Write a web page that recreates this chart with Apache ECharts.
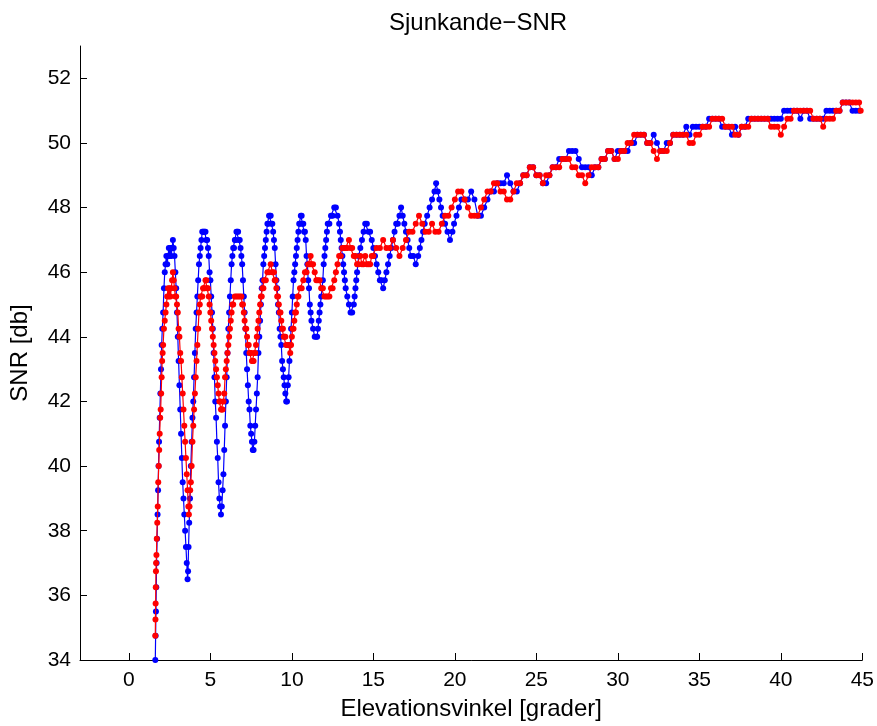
<!DOCTYPE html>
<html>
<head>
<meta charset="utf-8">
<script src="https://cdn.jsdelivr.net/npm/echarts@6/dist/echarts.min.js"></script>
<style>html,body{margin:0;padding:0;background:#fff}#c{width:877px;height:726px}</style>
</head>
<body>
<div id="c"></div>
<script>
const titleText = 'Sjunkande\u2212SNR';
const xAxisName = 'Elevationsvinkel [grader]';
const yAxisName = 'SNR [db]';
const xTicks = [0, 5, 10, 15, 20, 25, 30, 35, 40, 45];
const yTicks = [34, 36, 38, 40, 42, 44, 46, 48, 50, 52];

// blue series: [elevation, SNR]
const bluePoints = [
[1.62,34.0],[1.64,34.75],[1.66,35.5],[1.68,36.25],[1.70,37.0],[1.73,37.75],[1.76,38.5],[1.79,39.25],[1.82,40.0],[1.85,40.75],
[1.89,41.5],[1.93,42.25],[1.97,43.0],[2.01,43.75],[2.05,44.25],[2.10,44.75],[2.15,45.5],[2.20,46.0],[2.25,46.25],[2.30,46.5],
[2.35,46.25],[2.40,46.5],[2.45,46.75],[2.50,46.5],[2.55,46.75],[2.60,46.5],[2.65,46.75],[2.70,47.0],[2.75,46.75],[2.80,46.5],
[2.85,46.0],[2.90,45.5],[2.95,44.75],[3.00,44.0],[3.05,43.25],[3.10,42.5],[3.15,41.75],[3.20,41.0],[3.25,40.25],[3.30,39.5],
[3.35,39.0],[3.40,38.5],[3.45,38.0],[3.50,37.5],[3.55,37.0],[3.60,36.5],[3.63,36.75],[3.66,37.5],[3.70,38.25],[3.75,39.0],
[3.80,40.0],[3.85,40.75],[3.90,41.5],[3.95,42.0],[4.00,42.75],[4.05,43.5],[4.10,44.25],[4.15,44.75],[4.20,45.25],[4.25,45.75],
[4.30,46.25],[4.35,46.5],[4.40,46.75],[4.45,47.0],[4.50,47.25],[4.55,47.25],[4.60,47.25],[4.65,47.25],[4.70,47.25],[4.75,47.0],
[4.80,47.0],[4.85,46.75],[4.90,46.5],[4.95,46.0],[5.00,45.75],[5.05,45.25],[5.10,44.75],[5.15,44.25],[5.20,43.5],[5.25,42.75],
[5.30,42.0],[5.35,41.5],[5.40,40.75],[5.45,40.25],[5.50,39.5],[5.55,39.0],[5.60,38.75],[5.65,38.5],[5.70,38.75],[5.75,39.25],
[5.80,39.75],[5.85,40.5],[5.90,41.25],[5.95,42.0],[6.00,42.75],[6.05,43.5],[6.10,44.25],[6.15,44.75],[6.20,45.25],[6.25,45.75],
[6.30,46.25],[6.35,46.5],[6.40,46.75],[6.45,46.75],[6.50,47.0],[6.55,47.0],[6.60,47.25],[6.65,47.25],[6.70,47.25],[6.75,47.0],
[6.80,47.0],[6.85,46.75],[6.90,46.5],[6.95,46.25],[7.00,45.75],[7.05,45.25],[7.10,44.75],[7.15,44.25],[7.20,43.5],[7.25,43.0],
[7.30,42.5],[7.35,42.0],[7.40,41.75],[7.45,41.25],[7.50,41.0],[7.55,40.75],[7.60,40.5],[7.65,40.5],[7.70,40.75],[7.75,41.25],
[7.80,41.75],[7.85,42.25],[7.90,42.75],[7.95,43.5],[8.00,44.0],[8.05,44.5],[8.10,45.0],[8.15,45.5],[8.20,45.75],[8.25,46.25],
[8.30,46.5],[8.35,46.75],[8.40,47.0],[8.45,47.25],[8.50,47.5],[8.55,47.5],[8.60,47.75],[8.65,47.75],[8.70,47.75],[8.75,47.5],
[8.80,47.5],[8.85,47.25],[8.90,47.0],[8.95,46.75],[9.00,46.25],[9.05,45.75],[9.10,45.5],[9.15,45.0],[9.20,44.75],[9.25,44.25],
[9.30,44.0],[9.35,43.75],[9.40,43.25],[9.45,43.0],[9.50,42.75],[9.55,42.5],[9.60,42.25],[9.65,42.0],[9.70,42.0],[9.75,42.5],
[9.80,42.75],[9.85,43.25],[9.90,43.75],[9.95,44.25],[10.00,44.75],[10.05,45.25],[10.10,45.75],[10.15,46.0],[10.20,46.25],[10.25,46.5],
[10.30,46.75],[10.35,47.0],[10.40,47.25],[10.45,47.5],[10.50,47.5],[10.55,47.75],[10.60,47.75],[10.65,47.5],[10.70,47.5],[10.75,47.25],
[10.80,47.25],[10.85,47.0],[10.90,46.5],[10.95,46.25],[11.00,45.75],[11.05,45.5],[11.10,45.0],[11.15,44.75],[11.20,44.5],[11.30,44.25],
[11.40,44.0],[11.50,44.0],[11.55,44.0],[11.60,44.25],[11.65,44.5],[11.70,44.75],[11.75,45.0],[11.80,45.25],[11.85,45.5],[11.90,45.75],
[11.95,46.25],[12.00,46.5],[12.05,46.75],[12.10,47.0],[12.15,47.25],[12.20,47.5],[12.30,47.5],[12.40,47.75],[12.50,47.75],[12.60,48.0],
[12.70,48.0],[12.80,47.75],[12.90,47.5],[12.95,47.25],[13.00,47.0],[13.05,46.75],[13.10,46.5],[13.15,46.25],[13.20,46.0],[13.25,45.75],
[13.30,45.5],[13.40,45.25],[13.50,45.0],[13.60,44.75],[13.70,44.75],[13.80,45.0],[13.85,45.25],[13.90,45.5],[13.95,45.75],[14.00,46.0],
[14.10,46.5],[14.20,46.75],[14.30,47.0],[14.40,47.25],[14.50,47.5],[14.60,47.5],[14.70,47.25],[14.80,47.25],[14.90,47.0],[15.00,46.75],
[15.10,46.5],[15.20,46.25],[15.30,46.0],[15.40,45.75],[15.50,45.75],[15.60,45.5],[15.70,45.75],[15.80,46.0],[15.90,46.25],[16.00,46.5],
[16.10,46.75],[16.20,47.0],[16.30,47.25],[16.40,47.5],[16.50,47.5],[16.60,47.75],[16.70,48.0],[16.80,47.75],[16.90,47.5],[17.00,47.25],
[17.10,47.0],[17.20,46.75],[17.30,46.5],[17.45,46.5],[17.60,46.25],[17.75,46.5],[17.85,46.75],[17.95,47.0],[18.05,47.25],[18.15,47.5],
[18.30,47.75],[18.45,48.0],[18.60,48.25],[18.75,48.5],[18.85,48.75],[18.95,48.5],[19.05,48.25],[19.15,48.0],[19.25,47.75],[19.40,47.5],
[19.55,47.25],[19.70,47.0],[19.85,47.25],[19.95,47.5],[20.10,47.75],[20.25,48.0],[20.40,48.25],[20.6,48.25],[20.8,48.25],[21.0,48.5],
[21.2,48.25],[21.4,47.75],[21.6,47.75],[21.8,48.0],[22.0,48.25],[22.2,48.5],[22.4,48.5],[22.6,48.75],[22.8,48.75],[23.0,48.75],
[23.2,49.0],[23.4,48.75],[23.6,48.5],[23.8,48.5],[24.0,48.75],[24.2,49.0],[24.4,49.0],[24.6,49.25],[24.8,49.25],[25.0,49.0],
[25.2,49.0],[25.4,48.75],[25.6,48.75],[25.8,49.0],[26.0,49.25],[26.2,49.25],[26.4,49.5],[26.6,49.5],[26.8,49.5],[27.0,49.75],
[27.2,49.75],[27.4,49.75],[27.6,49.5],[27.8,49.25],[28.0,49.25],[28.2,49.25],[28.4,49.0],[28.6,49.25],[28.8,49.25],[29.0,49.5],
[29.2,49.5],[29.4,49.75],[29.6,49.75],[29.8,49.5],[30.0,49.75],[30.2,49.75],[30.4,49.75],[30.6,49.75],[30.8,50.0],[31.0,50.0],
[31.2,50.25],[31.4,50.25],[31.6,50.25],[31.8,50.0],[32.0,50.0],[32.2,50.25],[32.4,50.0],[32.6,49.75],[32.8,49.75],[33.0,50.0],
[33.2,50.0],[33.4,50.25],[33.6,50.25],[33.8,50.25],[34.0,50.25],[34.2,50.5],[34.4,50.25],[34.6,50.5],[34.8,50.5],[35.0,50.5],
[35.2,50.5],[35.4,50.5],[35.6,50.75],[35.8,50.75],[36.0,50.75],[36.2,50.75],[36.4,50.5],[36.6,50.5],[36.8,50.5],[37.0,50.25],
[37.2,50.5],[37.4,50.25],[37.6,50.5],[37.8,50.5],[38.0,50.75],[38.2,50.75],[38.4,50.75],[38.6,50.75],[38.8,50.75],[39.0,50.75],
[39.2,50.75],[39.4,50.75],[39.6,50.75],[39.8,50.75],[40.0,50.75],[40.2,51.0],[40.4,51.0],[40.6,51.0],[40.8,51.0],[41.0,51.0],
[41.2,50.75],[41.4,51.0],[41.6,51.0],[41.8,50.75],[42.0,50.75],[42.2,50.75],[42.4,50.75],[42.6,50.75],[42.8,51.0],[43.0,51.0],
[43.2,51.0],[43.4,51.0],[43.6,51.0],[43.8,51.25],[44.0,51.25],[44.2,51.25],[44.4,51.0],[44.6,51.0],[44.8,51.0]
];

// red series: [elevation, SNR]
const redPoints = [
[1.62,34.75],[1.63,35.25],[1.64,35.75],[1.65,36.25],[1.66,36.75],[1.67,37.0],[1.69,37.25],[1.71,37.75],[1.74,38.25],[1.77,38.75],
[1.80,39.5],[1.83,40.0],[1.86,40.5],[1.89,41.0],[1.92,41.5],[1.95,41.75],[1.98,42.25],[2.01,42.75],[2.04,43.25],[2.07,43.5],
[2.10,43.75],[2.15,44.25],[2.20,44.5],[2.25,44.75],[2.30,45.0],[2.35,45.25],[2.40,45.5],[2.45,45.25],[2.50,45.5],[2.55,45.25],
[2.60,45.5],[2.65,45.75],[2.70,46.0],[2.75,45.75],[2.80,45.5],[2.85,45.25],[2.90,45.25],[2.95,45.0],[3.00,44.75],[3.05,44.25],
[3.10,44.0],[3.15,43.5],[3.20,43.25],[3.25,42.75],[3.30,42.25],[3.35,41.75],[3.40,41.25],[3.45,40.75],[3.50,40.25],[3.55,39.75],
[3.60,39.25],[3.65,38.75],[3.68,38.5],[3.72,38.75],[3.76,39.25],[3.80,39.5],[3.85,40.0],[3.90,40.75],[3.95,41.25],[4.00,41.75],
[4.05,42.25],[4.10,42.75],[4.15,43.25],[4.20,43.75],[4.25,44.25],[4.30,44.75],[4.35,45.0],[4.40,45.25],[4.45,45.25],[4.50,45.25],
[4.55,45.5],[4.60,45.5],[4.65,45.5],[4.70,45.75],[4.75,45.75],[4.80,45.5],[4.85,45.5],[4.90,45.25],[4.95,45.0],[5.00,44.75],
[5.05,44.5],[5.10,44.25],[5.15,44.0],[5.20,43.75],[5.25,43.5],[5.30,43.25],[5.35,43.0],[5.40,42.75],[5.45,42.5],[5.50,42.25],
[5.55,42.0],[5.60,42.0],[5.65,41.75],[5.70,41.75],[5.75,41.75],[5.80,42.0],[5.85,42.25],[5.90,42.75],[5.95,43.0],[6.00,43.25],
[6.05,43.5],[6.10,43.75],[6.15,44.0],[6.20,44.25],[6.25,44.5],[6.30,44.75],[6.35,45.0],[6.40,45.0],[6.50,45.25],[6.60,45.25],
[6.70,45.25],[6.80,45.25],[6.90,45.25],[6.95,45.0],[7.00,45.0],[7.05,44.75],[7.10,44.5],[7.15,44.25],[7.20,44.25],[7.25,44.0],
[7.30,43.75],[7.35,43.75],[7.40,43.5],[7.45,43.5],[7.50,43.5],[7.55,43.25],[7.60,43.25],[7.65,43.25],[7.70,43.5],[7.75,43.5],
[7.80,43.75],[7.85,44.0],[7.90,44.25],[7.95,44.5],[8.00,44.75],[8.05,45.0],[8.10,45.25],[8.15,45.25],[8.20,45.5],[8.25,45.5],
[8.30,45.75],[8.40,45.75],[8.50,46.0],[8.60,46.0],[8.70,46.25],[8.80,46.0],[8.90,46.0],[8.95,45.75],[9.00,45.75],[9.05,45.5],
[9.10,45.25],[9.15,45.25],[9.20,45.0],[9.25,44.75],[9.30,44.75],[9.35,44.5],[9.40,44.25],[9.45,44.25],[9.50,44.0],[9.55,44.0],
[9.60,44.0],[9.65,43.75],[9.70,43.75],[9.80,43.75],[9.90,43.5],[9.95,43.75],[10.00,44.0],[10.05,44.25],[10.10,44.25],[10.15,44.5],
[10.20,44.75],[10.25,44.75],[10.30,45.0],[10.35,45.25],[10.40,45.25],[10.50,45.5],[10.60,45.5],[10.70,45.75],[10.80,46.0],[10.90,46.0],
[11.00,46.25],[11.10,46.25],[11.15,46.5],[11.20,46.25],[11.30,46.25],[11.40,46.0],[11.50,45.75],[11.60,45.75],[11.70,45.75],[11.80,45.5],
[11.90,45.5],[12.00,45.25],[12.10,45.25],[12.20,45.25],[12.30,45.25],[12.40,45.5],[12.50,45.5],[12.60,45.75],[12.70,46.0],[12.80,46.25],
[12.90,46.5],[13.00,46.5],[13.10,46.75],[13.20,46.75],[13.30,46.75],[13.40,46.75],[13.50,47.0],[13.60,46.75],[13.70,46.75],[13.80,46.5],
[13.90,46.5],[14.00,46.25],[14.10,46.25],[14.20,46.5],[14.30,46.25],[14.40,46.25],[14.50,46.5],[14.60,46.25],[14.70,46.25],[14.80,46.25],
[14.90,46.5],[15.00,46.5],[15.2,46.75],[15.4,46.75],[15.6,47.0],[15.8,46.75],[16.0,46.75],[16.2,47.0],[16.4,46.75],[16.6,46.5],
[16.8,46.75],[17.0,47.0],[17.2,47.25],[17.4,47.25],[17.6,47.5],[17.8,47.75],[18.0,47.5],[18.2,47.25],[18.4,47.25],[18.6,47.5],
[18.8,47.25],[19.0,47.25],[19.2,47.5],[19.4,47.75],[19.6,47.75],[19.8,48.0],[20.0,48.25],[20.2,48.5],[20.4,48.5],[20.6,48.25],
[20.8,48.0],[21.0,47.75],[21.2,47.75],[21.4,47.75],[21.6,48.0],[21.8,48.25],[22.0,48.5],[22.2,48.5],[22.4,48.75],[22.6,48.75],
[22.8,48.5],[23.0,48.5],[23.2,48.25],[23.4,48.25],[23.6,48.5],[23.8,48.75],[24.0,48.75],[24.2,49.0],[24.4,49.0],[24.6,49.25],
[24.8,49.25],[25.0,49.0],[25.2,49.0],[25.4,48.75],[25.6,49.0],[25.8,49.0],[26.0,49.25],[26.2,49.25],[26.4,49.25],[26.6,49.5],
[26.8,49.5],[27.0,49.5],[27.2,49.25],[27.4,49.25],[27.6,49.0],[27.8,49.0],[28.0,48.75],[28.2,49.0],[28.4,49.25],[28.6,49.25],
[28.8,49.25],[29.0,49.5],[29.2,49.5],[29.4,49.75],[29.6,49.75],[29.8,49.5],[30.0,49.5],[30.2,49.75],[30.4,49.75],[30.6,50.0],
[30.8,50.0],[31.0,50.25],[31.2,50.25],[31.4,50.25],[31.6,50.25],[31.8,50.0],[32.0,50.0],[32.2,49.75],[32.4,49.5],[32.6,49.75],
[32.8,49.75],[33.0,49.75],[33.2,50.0],[33.4,50.25],[33.6,50.25],[33.8,50.25],[34.0,50.25],[34.2,50.25],[34.4,50.0],[34.6,50.0],
[34.8,50.25],[35.0,50.25],[35.2,50.5],[35.4,50.5],[35.6,50.5],[35.8,50.75],[36.0,50.75],[36.2,50.75],[36.4,50.75],[36.6,50.5],
[36.8,50.5],[37.0,50.5],[37.2,50.25],[37.4,50.25],[37.6,50.5],[37.8,50.5],[38.0,50.5],[38.2,50.75],[38.4,50.75],[38.6,50.75],
[38.8,50.75],[39.0,50.75],[39.2,50.75],[39.4,50.5],[39.6,50.5],[39.8,50.5],[40.0,50.25],[40.2,50.5],[40.4,50.75],[40.6,50.75],
[40.8,51.0],[41.0,51.0],[41.2,51.0],[41.4,51.0],[41.6,51.0],[41.8,51.0],[42.0,50.75],[42.2,50.75],[42.4,50.75],[42.6,50.5],
[42.8,50.75],[43.0,50.75],[43.2,50.75],[43.4,51.0],[43.6,51.0],[43.8,51.25],[44.0,51.25],[44.2,51.25],[44.4,51.25],[44.6,51.25],
[44.8,51.25],[44.9,51.0]
];

const font = '"Liberation Sans", Arial, Helvetica, sans-serif';
const chart = echarts.init(document.getElementById('c'), null, {renderer: 'canvas'});
const axisCommon = {
  axisLine: {show: true, onZero: false, lineStyle: {color: '#000', width: 1}},
  axisTick: {show: true, inside: true, length: 7, lineStyle: {color: '#000', width: 1}},
  splitLine: {show: false},
  nameTextStyle: {color: '#000', fontSize: 24, fontFamily: font},
  axisLabel: {color: '#000', fontSize: 21, fontFamily: font}
};
chart.setOption({
  animation: false,
  backgroundColor: '#fff',
  title: {
    text: titleText, left: 473, top: 6, textAlign: 'center',
    textStyle: {color: '#000', fontSize: 24, fontWeight: 'normal', fontFamily: font}
  },
  grid: {left: 80, right: 11, top: 46, bottom: 63, containLabel: false},
  xAxis: Object.assign({}, axisCommon, {
    type: 'value', min: -3, max: 45,
    name: xAxisName, nameLocation: 'middle', nameGap: 37,
    axisTick: Object.assign({}, axisCommon.axisTick, {customValues: xTicks}),
    axisLabel: Object.assign({}, axisCommon.axisLabel, {customValues: xTicks, margin: 10})
  }),
  yAxis: Object.assign({}, axisCommon, {
    type: 'value', min: 34, max: 53,
    name: yAxisName, nameLocation: 'middle', nameGap: 48,
    axisTick: Object.assign({}, axisCommon.axisTick, {customValues: yTicks}),
    axisLabel: Object.assign({}, axisCommon.axisLabel, {customValues: yTicks, margin: 9})
  }),
  series: [
    {
      type: 'line', data: bluePoints,
      symbol: 'circle', symbolSize: 6, showSymbol: true,
      itemStyle: {color: '#0000ff'}, lineStyle: {color: '#0000ff', width: 1.2},
      z: 2
    },
    {
      type: 'line', data: redPoints,
      symbol: 'circle', symbolSize: 6, showSymbol: true,
      itemStyle: {color: '#ff0000'}, lineStyle: {color: '#ff0000', width: 1.2},
      z: 3
    }
  ]
});
</script>
</body>
</html>
